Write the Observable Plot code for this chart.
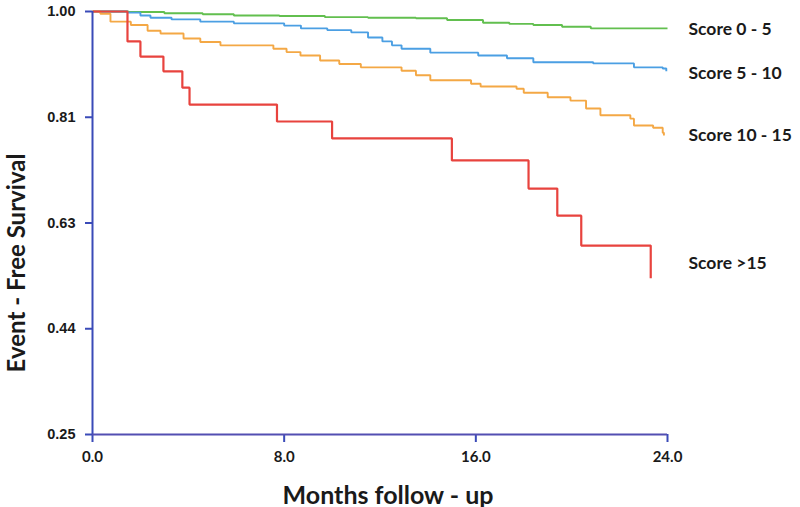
<!DOCTYPE html>
<html>
<head>
<meta charset="utf-8">
<script src="https://cdn.jsdelivr.net/npm/d3@7"></script>
<script src="https://cdn.jsdelivr.net/npm/@observablehq/plot@0.6"></script>
<style>
  html, body { margin: 0; padding: 0; background: #fff; }
  #chart { width: 800px; height: 507px; }
</style>
</head>
<body>
<div id="chart"></div>
<script>
// ---- Data ----
const seriesNames = ["Score 0 - 5", "Score 5 - 10", "Score 10 - 15", "Score >15"];
const seriesColors = ["#62bf4f", "#4b9fe3", "#f4a845", "#e8433e"];

const greenMonths = [0, 1.5, 3.0, 4.6, 5.9, 7.8, 9.7, 11.5, 13.5, 14.8, 16.3, 17.4, 18.4, 19.6, 20.8, 24.0];
const greenSurv   = [1.000, 0.999, 0.997, 0.995, 0.993, 0.992, 0.990, 0.989, 0.988, 0.985, 0.980, 0.978, 0.976, 0.973, 0.970, 0.970];

const blueMonths = [0, 1.46, 2.0, 2.42, 3.3, 4.5, 5.9, 8.0, 8.7, 9.8, 10.8, 11.5, 12.1, 12.5, 12.9, 14.1, 16.1, 17.3, 18.4, 20.9, 22.6, 23.8, 23.95];
const blueSurv   = [1.000, 0.998, 0.993, 0.989, 0.986, 0.982, 0.979, 0.975, 0.970, 0.967, 0.963, 0.954, 0.947, 0.940, 0.934, 0.927, 0.922, 0.917, 0.910, 0.908, 0.901, 0.899, 0.894];

const orangeMonths = [0, 0.33, 0.75, 1.6, 2.3, 2.84, 3.8, 4.5, 5.34, 7.55, 8.1, 8.68, 9.5, 10.3, 11.2, 12.9, 13.5, 14.1, 15.8, 16.2, 17.7, 18.0, 19.0, 19.95, 20.6, 21.2, 22.45, 22.6, 23.4, 23.8, 23.85];
const orangeSurv   = [1.000, 0.996, 0.982, 0.976, 0.966, 0.961, 0.952, 0.946, 0.940, 0.934, 0.928, 0.922, 0.913, 0.907, 0.901, 0.895, 0.887, 0.878, 0.872, 0.867, 0.863, 0.856, 0.848, 0.842, 0.828, 0.816, 0.810, 0.798, 0.794, 0.785, 0.780];

const redMonths = [0, 1.46, 2.0, 2.96, 3.75, 4.05, 7.7, 10.0, 15.0, 18.2, 19.4, 20.4, 23.3];
const redSurv   = [1.000, 0.947, 0.920, 0.894, 0.865, 0.835, 0.805, 0.775, 0.736, 0.686, 0.638, 0.585, 0.527];

// label anchor values (y) for the end-of-curve labels
const labelSurv = [0.968, 0.891, 0.780, 0.553];

const xTicks = [0, 8, 16, 24];
const xTickLabels = ["0.0", "8.0", "16.0", "24.0"];
const yTicks = [0.25, 0.4375, 0.625, 0.8125, 1.0];
const yTickLabels = ["0.25", "0.44", "0.63", "0.81", "1.00"];

const xTitle = "Months follow - up";
const yTitle = "Event - Free Survival";

// ---- Build table ----
const allMonths = [greenMonths, blueMonths, orangeMonths, redMonths];
const allSurv = [greenSurv, blueSurv, orangeSurv, redSurv];
const rows = [];
seriesNames.forEach((name, s) => {
  allMonths[s].forEach((m, i) => rows.push({series: name, month: m, surv: allSurv[s][i]}));
});
const labels = seriesNames.map((name, i) => ({series: name, month: 24, surv: labelSurv[i]}));

const axisBlue = "#3a4bb8";
const labelFont = "Lato, 'Open Sans', sans-serif";
const tickFont = "'Liberation Sans', Arial, sans-serif";

const chart = Plot.plot({
  width: 800,
  height: 507,
  marginLeft: 92,
  marginRight: 133,
  marginTop: 11,
  marginBottom: 73,
  style: {background: "#fff", fontFamily: tickFont, color: "#1a1a1a"},
  x: {domain: [0, 24]},
  y: {domain: [0.25, 1.0]},
  color: {domain: seriesNames, range: seriesColors},
  marks: [
    Plot.axisY({
      ticks: yTicks,
      tickFormat: d => yTickLabels[yTicks.indexOf(d)],
      tickSize: 7,
      tickPadding: 10,
      stroke: axisBlue,
      strokeWidth: 2,
      strokeOpacity: 1,
      fontSize: 14.5,
      fontWeight: "bold",
      fill: "#1a1a1a",
      label: null
    }),
    Plot.axisX({
      ticks: xTicks,
      tickFormat: d => xTickLabels[xTicks.indexOf(d)],
      tickSize: 8,
      tickPadding: 9,
      stroke: axisBlue,
      strokeWidth: 2,
      strokeOpacity: 1,
      fontSize: 15,
      fontWeight: "bold",
      fontFamily: labelFont,
      fill: "#1a1a1a",
      label: null
    }),
    Plot.line(rows, {
      x: "month", y: "surv", z: "series", stroke: "series",
      curve: "step-after",
      strokeWidth: d => d.series === "Score >15" ? 2.2 : 1.9,
      strokeLinejoin: "miter",
      strokeLinecap: "butt"
    }),
    Plot.ruleX([0], {stroke: axisBlue, strokeWidth: 2}),
    Plot.ruleY([0.25], {stroke: "#534fb2", strokeWidth: 2.2}),
    Plot.text(labels, {
      x: "month", y: "surv", text: "series",
      dx: 21, textAnchor: "start",
      fontSize: 17.5, fontWeight: "bold", fontFamily: labelFont, fill: "#1a1a1a"
    }),
    Plot.text([xTitle], {
      frameAnchor: "bottom", dx: 8, dy: 61, lineAnchor: "middle", textAnchor: "middle",
      fontSize: 25, fontWeight: "bold", fontFamily: labelFont, fill: "#1a1a1a"
    }),
    Plot.text([yTitle], {
      frameAnchor: "left", dx: -75, dy: 40, rotate: -90, lineAnchor: "middle", textAnchor: "middle",
      fontSize: 24, fontWeight: "bold", fontFamily: labelFont, fill: "#1a1a1a"
    })
  ]
});
document.getElementById("chart").appendChild(chart);
</script>
</body>
</html>
